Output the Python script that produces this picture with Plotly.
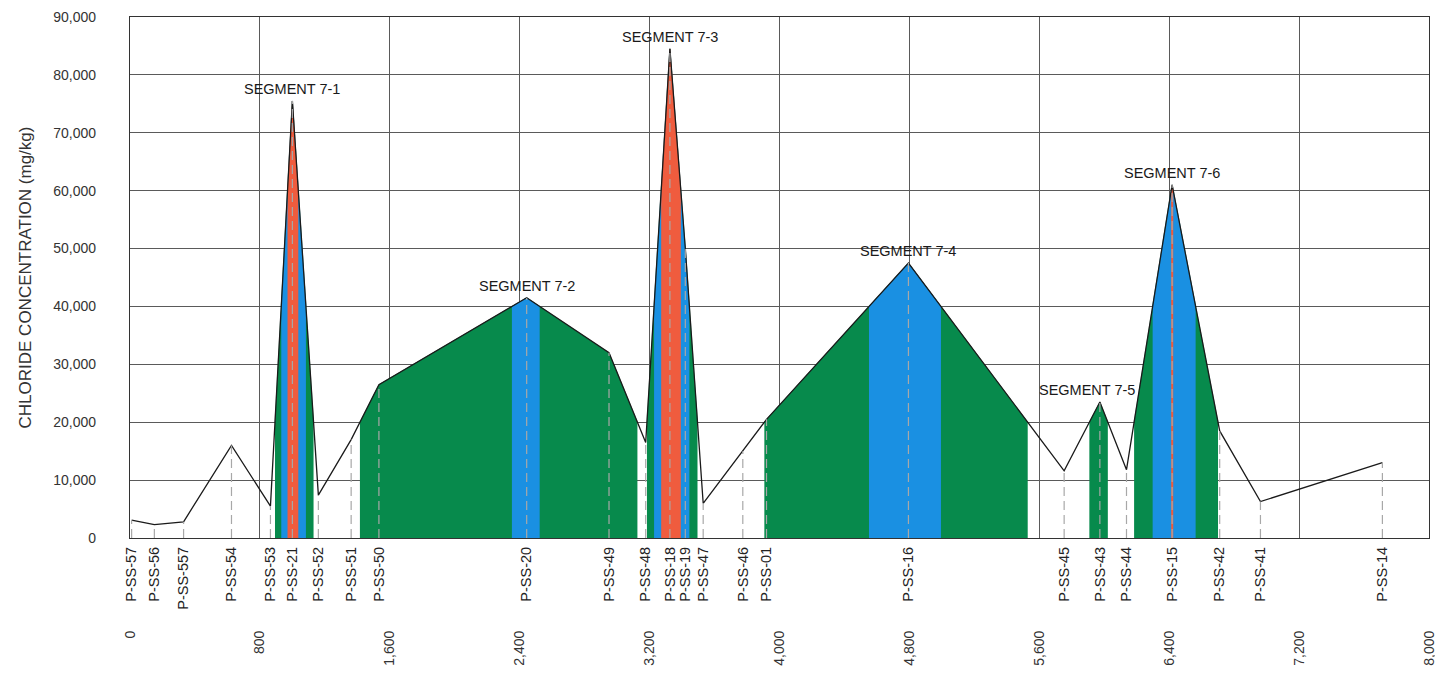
import numpy as np
import plotly.graph_objects as go

# ---------------- data ----------------
samples = ["P-SS-57", "P-SS-56", "P-SS-557", "P-SS-54", "P-SS-53", "P-SS-21", "P-SS-52",
           "P-SS-51", "P-SS-50", "P-SS-20", "P-SS-49", "P-SS-48", "P-SS-18", "P-SS-19",
           "P-SS-47", "P-SS-46", "P-SS-01", "P-SS-16", "P-SS-45", "P-SS-43", "P-SS-44",
           "P-SS-15", "P-SS-42", "P-SS-41", "P-SS-14"]
distance = [10, 150, 330, 625, 865, 1000, 1160,
            1362, 1533, 2443, 2950, 3176, 3325, 3420,
            3530, 3774, 3920, 4794, 5753, 5973, 6137,
            6418, 6711, 6962, 7713]
chloride = [3100, 2300, 2800, 16000, 5500, 75500, 7400,
            17000, 26500, 41500, 32000, 16500, 84500, 50000,
            6000, 15000, 20500, 47500, 11600, 23500, 11800,
            61000, 18500, 6300, 13000]

segment_names = ["SEGMENT 7-1", "SEGMENT 7-2", "SEGMENT 7-3",
                 "SEGMENT 7-4", "SEGMENT 7-5", "SEGMENT 7-6"]
segment_peaks = ["P-SS-21", "P-SS-20", "P-SS-18", "P-SS-16", "P-SS-43", "P-SS-15"]

band_thresholds = [20000, 40000, 60000]

x_ticks = [0, 800, 1600, 2400, 3200, 4000, 4800, 5600, 6400, 7200, 8000]
y_ticks = [0, 10000, 20000, 30000, 40000, 50000, 60000, 70000, 80000, 90000]

# ---------------- style ----------------
band_colors = ["#078A4C", "#1A90E2", "#EF5C3E"]
segment_xshift = {"SEGMENT 7-5": -13}
FONT = "Liberation Sans, Arial, sans-serif"
GRID = "#5a5a5a"


def band_regions(threshold):
    """Split the linear profile into runs at or above the threshold,
    adding the exact crossing points so each run has vertical edges."""
    xs, ys = [], []
    for i in range(len(distance)):
        x0, y0 = distance[i], chloride[i]
        xs.append(x0)
        ys.append(y0)
        if i + 1 < len(distance):
            x1, y1 = distance[i + 1], chloride[i + 1]
            if (y0 - threshold) * (y1 - threshold) < 0:
                xs.append(x0 + (threshold - y0) * (x1 - x0) / (y1 - y0))
                ys.append(threshold)
    regions, cur = [], None
    for x, y in zip(xs, ys):
        if y >= threshold - 1e-6:
            if cur is None:
                cur = ([], [])
            cur[0].append(x)
            cur[1].append(y)
        else:
            if cur is not None:
                regions.append(cur)
            cur = None
    if cur is not None:
        regions.append(cur)
    return regions


fig = go.Figure()

for thr, col in zip(band_thresholds, band_colors):
    for rx, ry in band_regions(thr):
        fig.add_trace(go.Scatter(
            x=rx, y=ry, mode="lines", fill="tozeroy", fillcolor=col,
            line=dict(width=0.5, color=col),
            hoverinfo="skip", showlegend=False))

# dashed drop lines from each sample to the baseline (on the sample-label axis)
dx, dy = [], []
for d, v in zip(distance, chloride):
    dx += [d, d, None]
    dy += [0, v, None]
fig.add_trace(go.Scatter(
    x=dx, y=dy, mode="lines", xaxis="x2",
    line=dict(color="#a8a8a8", width=1.2, dash="9px,5px"),
    hoverinfo="skip", showlegend=False))

# concentration profile
fig.add_trace(go.Scatter(
    x=distance, y=chloride, mode="lines",
    line=dict(color="#1a1a1a", width=1.3),
    text=samples, hovertemplate="%{text}: %{y:,}<extra></extra>",
    showlegend=False))

# segment labels
for name, peak in zip(segment_names, segment_peaks):
    i = samples.index(peak)
    fig.add_annotation(
        x=distance[i], y=chloride[i], text=name, showarrow=False,
        xanchor="center", yanchor="bottom", yshift=2,
        xshift=segment_xshift.get(name, 0),
        font=dict(family=FONT, size=14.5, color="#1a1a1a"))

fig.update_layout(
    width=1435, height=670,
    paper_bgcolor="white", plot_bgcolor="white",
    margin=dict(l=122, r=14, t=9, b=140),
    font=dict(family=FONT, size=14, color="#333"),
    xaxis=dict(
        range=[0, 8000], tickvals=x_ticks, tickformat=",",
        tickangle=-90, ticklabelstandoff=86, ticklabeloverflow="allow",
        automargin=False,
        showgrid=True, gridcolor=GRID, gridwidth=1.2,
        showline=True, linecolor="#333", linewidth=1.2, mirror=True,
        zeroline=False, ticks="",
        tickfont=dict(family=FONT, size=14, color="#333")),
    xaxis2=dict(
        range=[0, 8000], overlaying="x", side="bottom", anchor="y",
        tickvals=distance, ticktext=samples, tickangle=-90,
        showgrid=False, zeroline=False, showline=False, ticks="",
        ticklabelstandoff=5, automargin=False, ticklabeloverflow="allow",
        tickfont=dict(family=FONT, size=14.5, color="#222")),
    yaxis=dict(
        range=[0, 90000], tickvals=y_ticks, tickformat=",",
        showgrid=True, gridcolor=GRID, gridwidth=1.2,
        showline=True, linecolor="#333", linewidth=1.2, mirror=True,
        zeroline=False, ticks="", ticklabelstandoff=30, automargin=False,
        tickfont=dict(family=FONT, size=14, color="#333"),
        title=dict(text="CHLORIDE CONCENTRATION (mg/kg)", standoff=17,
                   font=dict(family=FONT, size=17, color="#333"))),
)

fig.write_html("out.html")
